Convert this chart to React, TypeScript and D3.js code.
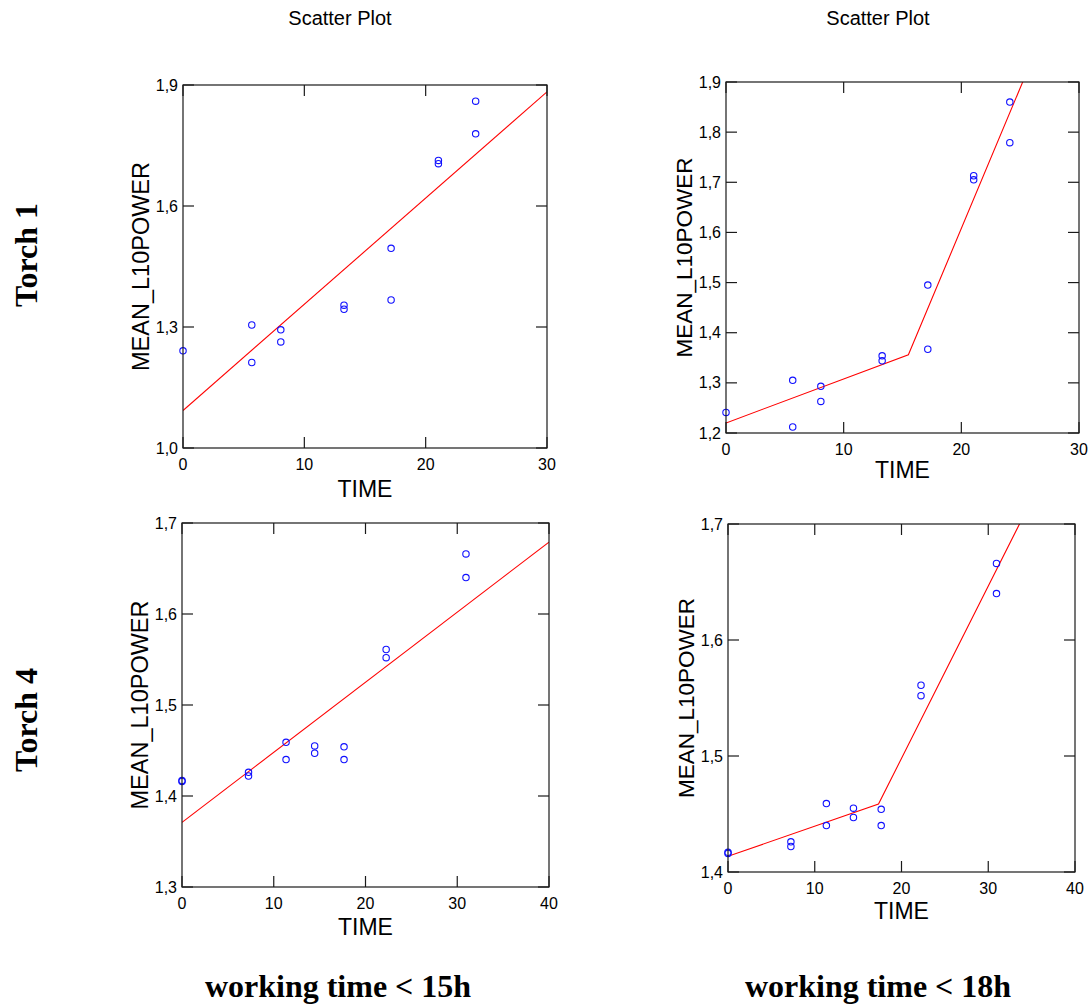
import React from "react";
import * as d3 from "d3";

// ---- data ----
const torch1Time = [0, 5.67, 5.67, 8.06, 8.06, 13.27, 13.27, 17.15, 17.15, 21.05, 21.05, 24.12, 24.12];
const torch1Power = [1.241, 1.305, 1.212, 1.293, 1.263, 1.354, 1.344, 1.495, 1.367, 1.713, 1.705, 1.86, 1.779];

const torch4Time = [0, 0, 7.25, 7.25, 11.34, 11.34, 14.46, 14.46, 17.66, 17.66, 22.25, 22.25, 30.95, 30.95];
const torch4Power = [1.417, 1.416, 1.426, 1.422, 1.459, 1.44, 1.455, 1.447, 1.454, 1.44, 1.561, 1.552, 1.666, 1.64];

const fitLinear1Time = [0, 30];
const fitLinear1Power = [1.093, 1.883];
const fitPiece1Time = [0, 15.5, 30];
const fitPiece1Power = [1.22, 1.356, 2.168];

const fitLinear4Time = [0, 40];
const fitLinear4Power = [1.371, 1.679];
const fitPiece4Time = [0, 17.35, 40];
const fitPiece4Power = [1.4135, 1.4586, 1.795];

const xTicks30 = [0, 10, 20, 30];
const xTicks40 = [0, 10, 20, 30, 40];
const yTicksA = [1.0, 1.3, 1.6, 1.9];
const yTicksB = [1.2, 1.3, 1.4, 1.5, 1.6, 1.7, 1.8, 1.9];
const yTicksC = [1.3, 1.4, 1.5, 1.6, 1.7];
const yTicksD = [1.4, 1.5, 1.6, 1.7];

const titleText = "Scatter Plot";
const xAxisName = "TIME";
const yAxisName = "MEAN_L10POWER";
const rowLabels = ["Torch 1", "Torch 4"];
const colLabels = ["working time < 15h", "working time < 18h"];

const SANS = "'Liberation Sans', Arial, Helvetica, sans-serif";
const SERIF = "'Liberation Serif', 'Times New Roman', Times, serif";

type PanelProps = {
  id: string;
  left: number; top: number; right: number; bottom: number;
  xDomain: [number, number]; yDomain: [number, number];
  xTicks: number[]; yTicks: number[];
  xs: number[]; ys: number[];
  fx: number[]; fy: number[];
  xLabelY: number; yLabelSize: number;
};

const fmtY = (v: number) => d3.format(".1f")(v).replace(".", ",");

function Panel(p: PanelProps) {
  const x = d3.scaleLinear().domain(p.xDomain).range([p.left, p.right]);
  const y = d3.scaleLinear().domain(p.yDomain).range([p.bottom, p.top]);
  const line = d3.line<number>().x((d) => x(p.fx[d])).y((d) => y(p.fy[d]));
  const idx = p.fx.map((_, i) => i);
  const tick = 11;
  const axisColor = "#1a1a1a";
  return (
    <g>
      <defs>
        <clipPath id={"clip-" + p.id}>
          <rect x={p.left} y={p.top} width={p.right - p.left} height={p.bottom - p.top} />
        </clipPath>
      </defs>
      <path d={line(idx) || ""} fill="none" stroke="#ff0000" strokeWidth={1.1} clipPath={`url(#clip-${p.id})`} />
      {p.xs.map((v, i) => (
        <circle key={i} cx={x(v)} cy={y(p.ys[i])} r={3.2} fill="none" stroke="#1010ff" strokeWidth={1.1} />
      ))}
      <rect x={p.left} y={p.top} width={p.right - p.left} height={p.bottom - p.top} fill="none" stroke={axisColor} strokeWidth={1.2} />
      {p.xTicks.map((t) => (
        <g key={"x" + t}>
          <line x1={x(t)} x2={x(t)} y1={p.bottom} y2={p.bottom - tick} stroke={axisColor} strokeWidth={1.2} />
          <line x1={x(t)} x2={x(t)} y1={p.top} y2={p.top + tick} stroke={axisColor} strokeWidth={1.2} />
          <text x={x(t)} y={p.bottom + 22} textAnchor="middle" fontSize={16} fontFamily={SANS} fill="#000">{String(t)}</text>
        </g>
      ))}
      {p.yTicks.map((t) => (
        <g key={"y" + t}>
          <line x1={p.left} x2={p.left + tick} y1={y(t)} y2={y(t)} stroke={axisColor} strokeWidth={1.2} />
          <line x1={p.right} x2={p.right - tick} y1={y(t)} y2={y(t)} stroke={axisColor} strokeWidth={1.2} />
          <text x={p.left - 5} y={y(t)} dy="0.35em" textAnchor="end" fontSize={16} fontFamily={SANS} fill="#000">{fmtY(t)}</text>
        </g>
      ))}
      <text x={(p.left + p.right) / 2} y={p.xLabelY} textAnchor="middle" fontSize={23} fontFamily={SANS} fill="#000">{xAxisName}</text>
      <text transform={`translate(${p.left - 34},${(p.top + p.bottom) / 2}) rotate(-90)`} textAnchor="middle" fontSize={p.yLabelSize} fontFamily={SANS} fill="#000">{yAxisName}</text>
    </g>
  );
}

export default function App() {
  return (
    <svg width={1090} height={1004} style={{ position: "absolute", left: 0, top: 0, display: "block", background: "#fff" }}>
      <rect x={0} y={0} width={1090} height={1004} fill="#fff" />
      <text x={340} y={25} textAnchor="middle" fontSize={20} fontFamily={SANS}>{titleText}</text>
      <text x={878} y={25} textAnchor="middle" fontSize={20} fontFamily={SANS}>{titleText}</text>

      <Panel id="p1" left={183} top={85} right={547} bottom={448} xDomain={[0, 30]} yDomain={[1.0, 1.9]}
        xTicks={xTicks30} yTicks={yTicksA} xs={torch1Time} ys={torch1Power} fx={fitLinear1Time} fy={fitLinear1Power}
        xLabelY={497} yLabelSize={23.5} />
      <Panel id="p2" left={726} top={82} right={1079} bottom={433} xDomain={[0, 30]} yDomain={[1.2, 1.9]}
        xTicks={xTicks30} yTicks={yTicksB} xs={torch1Time} ys={torch1Power} fx={fitPiece1Time} fy={fitPiece1Power}
        xLabelY={478} yLabelSize={22.5} />
      <Panel id="p3" left={182} top={523} right={549} bottom={887} xDomain={[0, 40]} yDomain={[1.3, 1.7]}
        xTicks={xTicks40} yTicks={yTicksC} xs={torch4Time} ys={torch4Power} fx={fitLinear4Time} fy={fitLinear4Power}
        xLabelY={935} yLabelSize={23.5} />
      <Panel id="p4" left={728} top={524} right={1075} bottom={872} xDomain={[0, 40]} yDomain={[1.4, 1.7]}
        xTicks={xTicks40} yTicks={yTicksD} xs={torch4Time} ys={torch4Power} fx={fitPiece4Time} fy={fitPiece4Power}
        xLabelY={919} yLabelSize={22.5} />

      <text transform="translate(37,255) rotate(-90)" textAnchor="middle" fontSize={32} fontWeight="bold" fontFamily={SERIF}>{rowLabels[0]}</text>
      <text transform="translate(37,720) rotate(-90)" textAnchor="middle" fontSize={32} fontWeight="bold" fontFamily={SERIF}>{rowLabels[1]}</text>
      <text x={338} y={997} textAnchor="middle" fontSize={32} fontWeight="bold" fontFamily={SERIF}>{colLabels[0]}</text>
      <text x={878} y={997} textAnchor="middle" fontSize={32} fontWeight="bold" fontFamily={SERIF}>{colLabels[1]}</text>
    </svg>
  );
}
